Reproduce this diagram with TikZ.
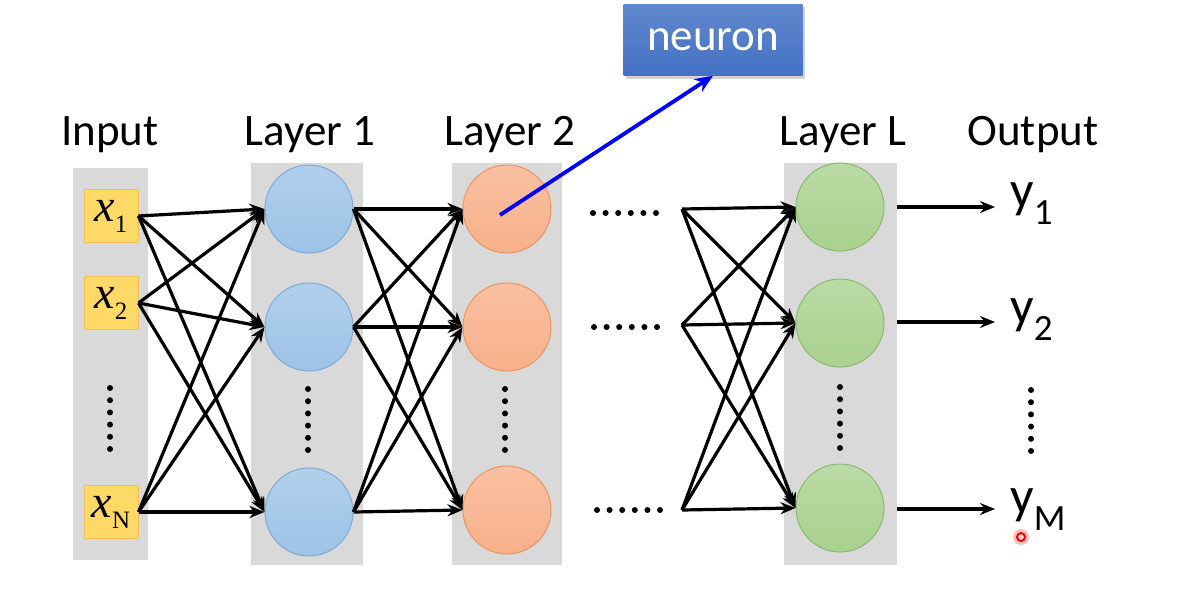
\documentclass[tikz,border=0pt]{standalone}
\usepackage{fontspec}
\setmainfont{Carlito}
\newfontfamily\serifx{Liberation Serif}
\usetikzlibrary{arrows.meta,shadows,calc}

\definecolor{colgrey}{HTML}{D9D9D9}
\definecolor{inpfill}{HTML}{FFD966}
\definecolor{inpdraw}{HTML}{F4C04F}
\definecolor{bluefill}{HTML}{9DC3E6}
\definecolor{bluedraw}{HTML}{7FA9D6}
\definecolor{orfill}{HTML}{F8B08A}
\definecolor{ordraw}{HTML}{E8955F}
\definecolor{grfill}{HTML}{A9D18E}
\definecolor{grdraw}{HTML}{8CB86F}
\definecolor{neuronblue}{HTML}{4472C4}

% input symbol x_i
\newcommand{\insym}[1]{{\serifx\fontsize{46}{46}\selectfont\itshape x}\raisebox{-11pt}{\serifx\fontsize{25}{25}\selectfont #1}}
% output symbol y_i
\newcommand{\outsym}[1]{{\fontsize{52}{52}\selectfont y}\raisebox{-17pt}{\fontsize{37}{37}\selectfont #1}}

\begin{document}
\begin{tikzpicture}[x=1pt,y=-1pt,
  column/.style={fill=colgrey,draw=none},
  inbox/.style={rectangle,fill=inpfill,draw=inpdraw,line width=1pt,
    minimum width=54pt,minimum height=53pt,inner sep=0pt},
  unit/.style={circle,line width=1pt,minimum size=88pt,inner sep=0pt},
  l1unit/.style={unit,draw=bluedraw,top color=bluefill!80!white,bottom color=bluefill},
  l2unit/.style={unit,draw=ordraw,top color=orfill!80!white,bottom color=orfill},
  lLunit/.style={unit,draw=grdraw,top color=grfill!80!white,bottom color=grfill},
  title/.style={font=\fontsize{45}{45}\selectfont,inner sep=0pt,anchor=base},
  wire/.style={line width=3.2pt,-{Stealth[length=15pt,width=12pt]}},
  dot/.style={fill=black},
]
\useasboundingbox (0,0) rectangle (1190,602);
\fill[white] (0,0) rectangle (1190,602);

% grey layer columns
\fill[column] (73,168) rectangle (148,560);
\fill[column] (251,163) rectangle (363,565);
\fill[column] (452,163) rectangle (562,565);
\fill[column] (784,163) rectangle (897,565);

% column titles
\node[title] (tin)  at (110,145) {Input};
\node[title] (tl1)  at (310,145) {Layer 1};
\node[title] (tl2)  at (510,145) {Layer 2};
\node[title] (tlL)  at (843,145) {Layer L};
\node[title] (tout) at (1033,145) {Output};

% inputs
\node[inbox] (i1) at (111,216) {\insym{1}};
\node[inbox] (i2) at (111,303) {\insym{2}};
\node[inbox] (i3) at (111,512) {\insym{N}};

% layer 1
\node[l1unit] (a1) at (309,209) {};
\node[l1unit] (a2) at (309,327) {};
\node[l1unit] (a3) at (309,512) {};
% layer 2
\node[l2unit] (b1) at (507,209) {};
\node[l2unit] (b2) at (507,327) {};
\node[l2unit] (b3) at (507,510) {};
% layer L
\node[lLunit] (c1) at (840,207) {};
\node[lLunit] (c2) at (840,323) {};
\node[lLunit] (c3) at (840,508) {};

% input -> layer 1
\foreach \s in {i1,i2,i3}
  \foreach \t in {a1,a2,a3}
    \draw[wire] (\s.east) -- (\t.west);
% layer 1 -> layer 2
\foreach \s in {a1,a2,a3}
  \foreach \t in {b1,b2,b3}
    \draw[wire] (\s.east) -- (\t.west);
% previous layer -> layer L
\coordinate (f1) at (682,209);
\coordinate (f2) at (682,325);
\coordinate (f3) at (682,510);
\foreach \s in {f1,f2,f3}
  \foreach \t in {c1,c2,c3}
    \draw[wire] (\s) -- (\t.west);

% outputs
\node[inner sep=0pt,anchor=base west] (o1) at (1010,207) {\outsym{1}};
\node[inner sep=0pt,anchor=base west] (o2) at (1010,323) {\outsym{2}};
\node[inner sep=0pt,anchor=base west] (o3) at (1010,513) {\outsym{M}};
\coordinate (s1) at (897,207);
\coordinate (s2) at (897,322);
\coordinate (s3) at (897,509);
\coordinate (e1) at (995,207);
\coordinate (e2) at (995,322);
\coordinate (e3) at (995,509);
\draw[wire] (s1) -- (e1);
\draw[wire] (s2) -- (e2);
\draw[wire] (s3) -- (e3);

% horizontal ellipses between layer 2 and layer L
\foreach \y/\x in {213/593,327/594,510/597}
  \foreach \k in {0,...,5}
    \fill[dot] (\x+\k*12.6,\y) circle (3);

% vertical ellipses in each column
\foreach \x/\y in {110/388,308/389,505/389,840/387,1031/390}
  \foreach \k in {0,...,5}
    \fill[dot] (\x,\y+\k*12.2) circle (3);

% neuron call-out
\node[rectangle,minimum width=179pt,minimum height=71pt,inner sep=0pt,
      top color=neuronblue!85!white,bottom color=neuronblue,draw=none,
      drop shadow={opacity=0.35,shadow xshift=2pt,shadow yshift=-3pt},
      text=white,font=\fontsize{45}{45}\selectfont] (neuron) at (713,40) {neuron};
\coordinate (p) at (500,215);
\draw[line width=3.8pt,blue,-{Stealth[length=18pt,width=15pt]}] (p) -- (neuron.south);

% pointer mark
\fill[red,opacity=0.25] (1021,537) circle (8);
\draw[red,line width=2pt,fill=white!85!red] (1021,537) circle (4);
\end{tikzpicture}
\end{document}
